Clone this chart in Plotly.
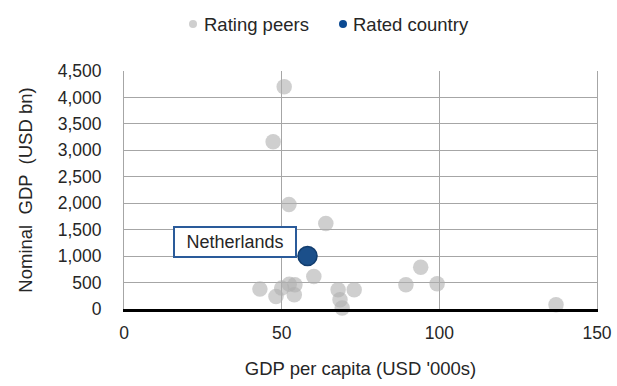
import plotly.graph_objects as go

# Rating peers: GDP per capita (USD '000s) and nominal GDP (USD bn)
peer_gdp_pc = [50.8, 47.3, 52.3, 64.0, 60.2, 43.1, 48.2, 50.0, 52.4, 54.0, 54.2,
               67.9, 73.0, 68.5, 69.2, 89.4, 94.1, 99.3, 137.0]
peer_gdp = [4203, 3164, 1974, 1617, 613, 376, 237, 395, 470, 269, 457,
            363, 363, 175, 19, 457, 790, 476, 81]

rated_name = ["Netherlands"]
rated_gdp_pc = [58.2]
rated_gdp = [1002]

series_names = ["Rating peers", "Rated country"]
x_ticks = [0, 50, 100, 150]
y_ticks = [0, 500, 1000, 1500, 2000, 2500, 3000, 3500, 4000, 4500]

FONT = "Liberation Sans, Arial, sans-serif"
TXT = "#262626"
BLUE = "#1B4F8A"
GRID = "#a6a6a6"
PEER_LEG = "#cfcfcf"
RATED_LEG = "#0b4a92"

L, R, T, B = 124, 20, 71, 77
W, H = 617, 386
PW, PH = W - L - R, H - T - B


def px_x(px):
    return (px - L) / PW


def px_y(py):
    return (H - B - py) / PH


fig = go.Figure()

fig.add_trace(go.Scatter(
    x=peer_gdp_pc, y=peer_gdp, mode="markers", name=series_names[0],
    marker=dict(size=15.5, color="rgba(175,175,175,0.6)", line=dict(width=0)),
    showlegend=False, cliponaxis=False,
))
fig.add_trace(go.Scatter(
    x=rated_gdp_pc, y=rated_gdp, mode="markers", name=series_names[1],
    marker=dict(size=19, color=BLUE, line=dict(width=1.5, color="#123d6e")),
    showlegend=False, cliponaxis=False,
))

# label box for the rated country
fig.add_annotation(
    x=rated_gdp_pc[0], y=rated_gdp[0], xref="x", yref="y",
    text=rated_name[0], showarrow=False,
    xanchor="right", yanchor="middle", xshift=-11, yshift=14,
    width=110, height=18, align="center", valign="middle",
    font=dict(family=FONT, size=18, color=TXT),
    bgcolor="white", bordercolor="#2a5b9a", borderwidth=2, borderpad=5,
)

# legend (dot + text) placed at the top
leg_y = 24
for name, color, dot_px, text_px in [(series_names[0], PEER_LEG, 193, 202),
                                     (series_names[1], RATED_LEG, 343, 351)]:
    fig.add_shape(type="circle", xref="paper", yref="paper",
                  xsizemode="pixel", ysizemode="pixel",
                  xanchor=px_x(dot_px), yanchor=px_y(leg_y),
                  x0=-4, x1=4, y0=-4, y1=4,
                  fillcolor=color, line=dict(width=0))
    fig.add_annotation(x=px_x(text_px), y=px_y(leg_y), xref="paper", yref="paper",
                       text=name, showarrow=False, xanchor="left", yanchor="middle",
                       font=dict(family=FONT, size=18.5, color=TXT))

fig.update_layout(
    width=W, height=H,
    margin=dict(l=L, r=R, t=T, b=B),
    plot_bgcolor="white", paper_bgcolor="white",
    font=dict(family=FONT, size=17, color=TXT),
    showlegend=False,
    xaxis=dict(range=[0, 150], tickvals=x_ticks, showgrid=True, gridcolor=GRID,
               gridwidth=1, zeroline=False, showline=True, linecolor="black",
               linewidth=2.5, ticks="", ticklen=0, ticklabelstandoff=6,
               automargin=False,
               title=dict(text="GDP per capita (USD '000s)", standoff=21,
                          font=dict(family=FONT, size=18.5, color=TXT)),
               tickfont=dict(family=FONT, size=17.5, color=TXT)),
    yaxis=dict(range=[0, 4500], tickvals=y_ticks, tickformat=",", showgrid=True,
               gridcolor=GRID, gridwidth=1, zeroline=False, showline=True,
               linecolor=GRID, linewidth=1, mirror=True, ticks="",
               ticklabelstandoff=18, automargin=False,
               title=dict(text="Nominal  GDP  (USD bn)", standoff=20,
                          font=dict(family=FONT, size=18.5, color=TXT)),
               tickfont=dict(family=FONT, size=17.5, color=TXT)),
)

fig.write_html("out.html")
